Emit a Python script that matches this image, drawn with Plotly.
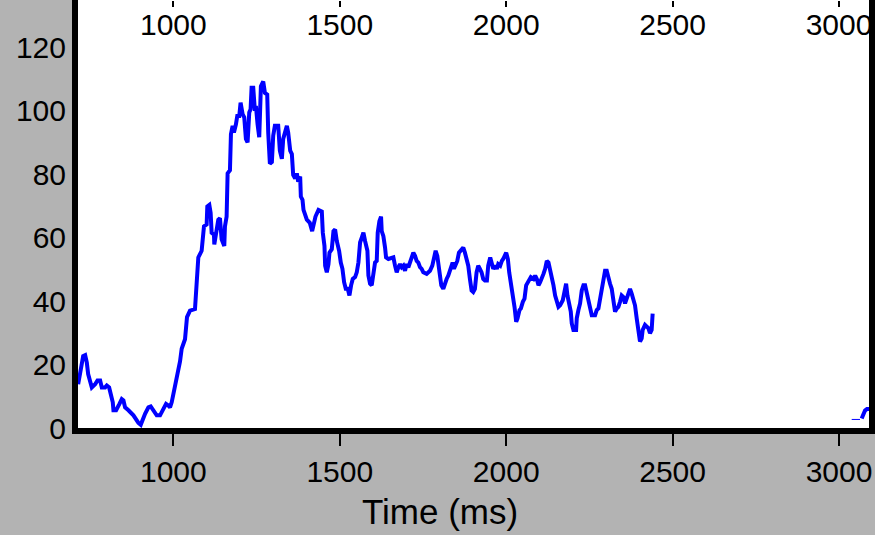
import plotly.graph_objects as go

# ---- data ----
time_ms = [714, 722, 729, 735, 740, 744, 750, 755, 765, 772, 780, 785, 795, 800, 807, 812, 818, 820, 828, 838,
           845, 850, 855, 865, 880, 895, 902, 915, 925, 932, 940, 950, 960, 970, 978, 985, 990, 995, 1000, 1005,
           1010, 1015, 1020, 1025, 1035, 1041, 1050, 1065, 1075, 1085, 1092, 1100, 1102, 1108, 1112, 1115, 1122,
           1123, 1130, 1135, 1140, 1145, 1153, 1155, 1160, 1163, 1170, 1173, 1178, 1182, 1188, 1192, 1198, 1202,
           1208, 1213, 1218, 1223, 1228, 1232, 1235, 1240, 1245, 1248, 1253, 1258, 1263, 1270, 1275, 1282, 1285,
           1290, 1296, 1300, 1305, 1315, 1320, 1326, 1330, 1335, 1341, 1345, 1351, 1356, 1360, 1366, 1371, 1375,
           1381, 1383, 1388, 1391, 1401, 1410, 1417, 1427, 1436, 1446, 1449, 1454, 1456, 1461, 1466, 1469, 1476,
           1481, 1486, 1491, 1498, 1503, 1508, 1513, 1518, 1524, 1529, 1534, 1539, 1546, 1551, 1556, 1561, 1566,
           1571, 1576, 1583, 1586, 1591, 1596, 1601, 1606, 1611, 1614, 1619, 1624, 1626, 1631, 1636, 1639, 1646,
           1656, 1661, 1666, 1671, 1676, 1681, 1686, 1691, 1696, 1701, 1706, 1711, 1716, 1721, 1726, 1731, 1736,
           1741, 1746, 1751, 1761, 1771, 1778, 1783, 1788, 1793, 1797, 1801, 1805, 1811, 1816, 1821, 1826, 1833,
           1839, 1843, 1848, 1853, 1858, 1866, 1871, 1876, 1881, 1886, 1891, 1896, 1901, 1906, 1911, 1916, 1921,
           1926, 1931, 1936, 1942, 1946, 1952, 1957, 1961, 1967, 1972, 1976, 1982, 1987, 1991, 2000, 2005, 2009,
           2015, 2020, 2025, 2030, 2034, 2040, 2044, 2050, 2055, 2060, 2067, 2074, 2082, 2087, 2092, 2097, 2102,
           2107, 2112, 2117, 2122, 2127, 2132, 2137, 2142, 2147, 2152, 2157, 2162, 2170, 2175, 2180, 2184, 2189,
           2194, 2197, 2202, 2210, 2212, 2217, 2222, 2227, 2232, 2237, 2242, 2247, 2252, 2257, 2267, 2272, 2277,
           2282, 2287, 2292, 2297, 2302, 2307, 2312, 2317, 2322, 2327, 2332, 2337, 2342, 2347, 2352, 2357, 2362,
           2367, 2372, 2377, 2382, 2387, 2392, 2397, 2402, 2407, 2410, 2417, 2422, 2427, 2432, 2437, 2440,
           None, 3068, 3072, 3078, 3084, 3091]
rate = [13.8, 18, 22.7, 23, 20.6, 17, 15, 12.8, 13.8, 15, 15, 12.8, 12.8, 13.4, 12.8, 10.7, 8.1, 5.6, 5.6, 7.6,
        9.1, 8.7, 6.5, 5.6, 4, 1.6, 1.0, 4.5, 6.5, 6.8, 5.6, 4, 4, 6, 7.6, 7.1, 6.5, 8.1, 10.7, 12.8,
        17, 18.5, 21, 25, 28, 35, 37, 37.5, 53.8, 55.9, 63.6, 64.2, 69.9, 70.4, 67.8, 61.6, 61,
        57.9, 61.6, 65.7, 66.2, 59.5, 57.4, 63.6, 66.7, 80.3, 81.3, 92.7, 95.3, 93.2, 95.8, 98.4, 98.4, 102.6,
        99, 98, 91.2, 90.1, 99.5, 100.5, 107.3, 107.3, 100, 101.6, 95.8, 91.7, 107.8, 109.3, 105.7, 105.2, 93.2,
        83.4, 83.9, 92.2, 95.3, 95.3, 87.5, 84.9, 91.2, 93.2, 95.3, 93.2, 87.5, 86.4, 79.8, 78.7, 80.3, 77.7,
        79.3, 73, 72, 68.8, 65.7, 64.7, 62.1, 66.7, 68.8, 68.3, 61.6, 57.4, 51.2, 49.1, 51.7, 55.3, 56.4,
        62.1, 62.6, 59, 55.9, 52.2, 50.2, 46, 43.9, 43.9, 41.8, 45, 47, 47.6, 49.1, 52.2, 58.5, 60,
        61.6, 59, 55.9, 48.1, 45.5, 45, 48.1, 52.2, 52.7, 61.6, 65.2, 66.7, 62.1, 60.5, 56.9, 53.8, 53.3,
        53.8, 53.8, 51.2, 49.1, 50.7, 51.7, 50.7, 51.2, 49.6, 51.7, 50.7, 52.2, 54.3, 55.3, 54.3, 52.7, 52.2,
        50.7, 50.2, 49.1, 48.6, 49.6, 51.2, 53.3, 55.9, 54.3, 50.7, 49.6, 45, 43.9, 46, 47, 48.1, 50.7,
        52.2, 50.2, 51.7, 52.7, 55.3, 56.4, 56.9, 55.3, 52.7, 51.2, 47, 43.4, 42.9, 43.9, 49.1, 51.2, 50.2,
        49.1, 47, 46.5, 46.5, 51.2, 53.8, 52.2, 50.2, 51.2, 50.2, 51.7, 51.2, 52.7, 53.3, 55.3, 53.3, 49.1,
        45, 42.9, 38.2, 33.5, 34.6, 37.2, 37.7, 39.8, 40.8, 45, 46.5, 47.6, 47, 48.1, 47, 45, 46,
        47, 48.6, 50.2, 52.7, 52.2, 50.2, 48.1, 45, 41.8, 39.8, 38.2, 38.7, 40.3, 42.9, 45.5, 41.8, 39.8,
        36.7, 33, 30.9, 30.9, 34.6, 37.2, 39.3, 43.4, 45, 45, 42.9, 40.8, 38.7, 35.6, 35.6, 37.2, 37.7,
        40.8, 45, 48.1, 49.6, 49.6, 47, 45.5, 43.9, 39.8, 36.7, 37.7, 38.2, 39.8, 41.8, 41.3, 39.3, 40.8,
        42.9, 43.9, 42.4, 40.3, 38.7, 34.6, 31.5, 27.3, 28.3, 30.9, 32.5, 32, 31.5, 29.9, 30.9, 36.1,
        None, 3.0, 4.0, 5.5, 6.0, 6.0]
dash_time = [3038, 3063]
dash_rate = [2.7, 2.7]

x_ticks = [1000, 1500, 2000, 2500, 3000]
y_ticks = [0, 20, 40, 60, 80, 100, 120]
x_range = [713.5, 3090]
y_range = [0, 135]
x_title = "Time (ms)"

FONT = "Liberation Sans, Arial, sans-serif"

fig = go.Figure()
fig.add_trace(go.Scatter(x=time_ms, y=rate, mode="lines",
                         line=dict(color="#0000ff", width=4), connectgaps=False,
                         showlegend=False, hoverinfo="skip"))
fig.add_trace(go.Scatter(x=dash_time, y=dash_rate, mode="lines",
                         line=dict(color="#0000ff", width=1),
                         showlegend=False, hoverinfo="skip"))

fig.update_layout(
    width=875, height=535,
    margin=dict(l=78, r=6, t=0, b=107),
    paper_bgcolor="#b3b3b3",
    plot_bgcolor="#ffffff",
    font=dict(family=FONT, size=30, color="#000000"),
    xaxis=dict(range=x_range, tickvals=x_ticks, showgrid=False, zeroline=False,
               showline=True, linecolor="#000000", linewidth=6,
               ticks="outside", ticklen=12, tickwidth=2, tickcolor="#000000",
               tickfont=dict(size=30)),
    xaxis2=dict(range=x_range, tickvals=x_ticks, overlaying="x", anchor="free",
                position=1, side="bottom", showgrid=False, zeroline=False,
                showline=False, ticks="outside", ticklen=6, tickwidth=2,
                tickcolor="#000000", tickfont=dict(size=30), ticklabelstandoff=-8),
    yaxis=dict(range=y_range, tickvals=y_ticks, showgrid=False, zeroline=False,
               showline=True, mirror=True, linecolor="#000000", linewidth=6,
               ticks="", tickfont=dict(size=30)),
    annotations=[dict(text=x_title, xref="paper", yref="paper", x=0.4577, y=-0.194,
                      xanchor="center", yanchor="middle", showarrow=False,
                      font=dict(size=35, family=FONT, color="#000000"))],
)
# invisible trace to activate the top axis
fig.add_trace(go.Scatter(x=[x_range[0]], y=[y_range[0]], xaxis="x2", mode="markers",
                         marker=dict(opacity=0), showlegend=False, hoverinfo="skip"))

fig.write_html("out.html")
